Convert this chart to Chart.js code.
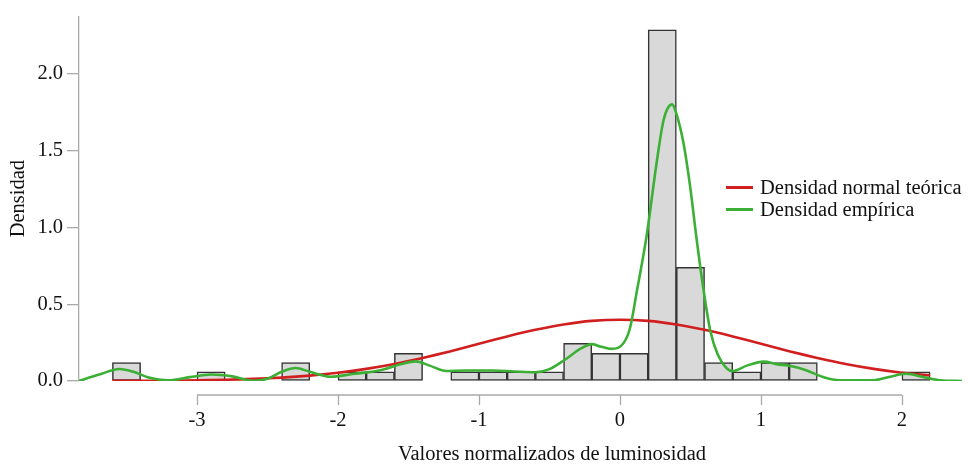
<!DOCTYPE html>
<html>
<head>
<meta charset="utf-8">
<script src="https://cdn.jsdelivr.net/npm/chart.js@4.4.1/dist/chart.umd.min.js"></script>
<style>
  html, body { margin: 0; padding: 0; background: #fff; }
  #wrap { position: relative; width: 968px; height: 464px; }
  #legend, #xtitle {
    position: absolute;
    font-family: "Liberation Serif", serif; font-size: 20.5px; color: #111; line-height: 22px;
  }
  #legend { left: 726px; top: 176px; }
  #xtitle { left: 552px; top: 442px; transform: translateX(-50%); white-space: nowrap; }
  #legend div { display: flex; align-items: center; white-space: nowrap; }
  #legend span.sw { display: inline-block; width: 27px; height: 3px; margin-right: 7px; }
</style>
</head>
<body>
<div id="wrap">
  <canvas id="chart"></canvas>
  <div id="legend">
    <div><span class="sw" style="background:#d11f1f"></span>Densidad normal teórica</div>
    <div><span class="sw" style="background:#3bb035"></span>Densidad empírica</div>
  </div>
  <div id="xtitle">Valores normalizados de luminosidad</div>
</div>
<script>
// Histograma: centros de clase (ancho 0.2) y densidades
const binCenters = [-3.5, -3.3, -3.1, -2.9, -2.7, -2.5, -2.3, -2.1, -1.9, -1.7, -1.5, -1.3, -1.1, -0.9,
  -0.7, -0.5, -0.3, -0.1, 0.1, 0.3, 0.5, 0.7, 0.9, 1.1, 1.3, 1.5, 1.7, 1.9, 2.1];
const binDensity = [0.12, 0, 0, 0.06, 0, 0, 0.12, 0, 0.06, 0.06, 0.18, 0, 0.06, 0.06,
  0.06, 0.06, 0.245, 0.18, 0.18, 2.285, 0.74, 0.12, 0.06, 0.12, 0.12, 0, 0, 0, 0.06];

// Densidad normal teórica
const normalX = [-3.6, -3.4, -3.2, -3.0, -2.8, -2.6, -2.4, -2.2, -2.0, -1.8, -1.6, -1.4, -1.2, -1.0,
  -0.8, -0.6, -0.4, -0.2, 0.0, 0.2, 0.4, 0.6, 0.8, 1.0, 1.2, 1.4, 1.6, 1.8, 2.0, 2.2];
const normalY = [0.001, 0.001, 0.002, 0.005, 0.008, 0.014, 0.022, 0.035, 0.054, 0.079, 0.111, 0.150, 0.194, 0.242,
  0.290, 0.333, 0.368, 0.391, 0.399, 0.391, 0.368, 0.333, 0.290, 0.242, 0.194, 0.150, 0.111, 0.079, 0.054, 0.037];

// Densidad empírica (kernel)
const kdeX = [-3.84, -3.7, -3.55, -3.45, -3.35, -3.2, -3.05, -2.9, -2.75, -2.6, -2.5, -2.4, -2.3, -2.2,
  -2.05, -1.9, -1.7, -1.55, -1.45, -1.35, -1.23, -1.1, -0.9, -0.75, -0.6, -0.5, -0.38, -0.28, -0.2,
  -0.14, -0.06, 0.01, 0.07, 0.12, 0.19, 0.26, 0.31, 0.37, 0.40, 0.45, 0.50, 0.54, 0.59, 0.64, 0.69,
  0.76, 0.80, 0.90, 1.02, 1.11, 1.21, 1.32, 1.44, 1.56, 1.80, 1.91, 2.03, 2.15, 2.27, 2.43];
const kdeY = [0.0, 0.04, 0.078, 0.06, 0.025, 0.005, 0.025, 0.042, 0.03, 0.002, 0.015, 0.06, 0.085, 0.06,
  0.028, 0.045, 0.07, 0.11, 0.128, 0.1, 0.065, 0.068, 0.068, 0.062, 0.057, 0.077, 0.145, 0.21, 0.24,
  0.225, 0.209, 0.23, 0.34, 0.585, 0.95, 1.42, 1.70, 1.80, 1.74, 1.55, 1.25, 0.95, 0.61, 0.33, 0.18,
  0.08, 0.065, 0.10, 0.126, 0.11, 0.097, 0.07, 0.026, 0.005, 0.005, 0.026, 0.047, 0.026, 0.005, 0.0];

const xTicks = [-3, -2, -1, 0, 1, 2];
const yTicks = [0, 0.5, 1.0, 1.5, 2.0];

const FONT = '"Liberation Serif", serif';
const FSIZE = 20.5;
const pts = (xs, ys) => xs.map((x, i) => ({ x: x, y: ys[i] }));

// Eje x al estilo R: separado del área y solo entre los ticks extremos
const rAxisPlugin = {
    id: 'rAxis',
    afterDraw(chart) {
        const ctx = chart.ctx;
        const sx = chart.scales.x;
        const y0 = chart.chartArea.bottom + 14;
        ctx.save();
        ctx.strokeStyle = '#aaaaaa';
        ctx.lineWidth = 1.3;
        ctx.beginPath();
        ctx.moveTo(sx.getPixelForValue(xTicks[0]), y0);
        ctx.lineTo(sx.getPixelForValue(xTicks[xTicks.length - 1]), y0);
        xTicks.forEach(t => {
            const px = Math.round(sx.getPixelForValue(t)) + 0.5;
            ctx.moveTo(px, y0);
            ctx.lineTo(px, y0 + 10);
        });
        ctx.stroke();
        ctx.restore();
    }
};

new Chart(document.getElementById('chart').getContext('2d'), {
    type: 'bar',
    data: {
        datasets: [
            {
                type: 'line',
                label: 'Densidad normal teórica',
                data: pts(normalX, normalY),
                borderColor: '#d11f1f',
                borderWidth: 2.6,
                pointRadius: 0,
                tension: 0.2,
                order: 1
            },
            {
                type: 'line',
                label: 'Densidad empírica',
                data: pts(kdeX, kdeY),
                borderColor: '#3bb035',
                borderWidth: 2.6,
                pointRadius: 0,
                cubicInterpolationMode: 'monotone',
                order: 0
            },
            {
                type: 'bar',
                label: 'Histograma',
                data: pts(binCenters, binDensity),
                backgroundColor: '#d9d9d9',
                borderColor: '#333333',
                borderWidth: 1.5,
                borderSkipped: false,
                barPercentage: 1,
                categoryPercentage: 1,
                grouped: false,
                order: 2
            }
        ]
    },
    options: {
        responsive: true,
        maintainAspectRatio: false,
        animation: false,
        layout: { padding: { top: 12, right: 6, left: 0, bottom: 0 } },
        plugins: {
            legend: { display: false },
            tooltip: { enabled: false }
        },
        scales: {
            x: {
                type: 'linear',
                offset: false,
                min: -3.837,
                max: 2.426,
                afterFit: s => { s.height = 83; },
                afterBuildTicks: s => { s.ticks = xTicks.map(v => ({ value: v })); },
                grid: { display: false, drawTicks: false },
                border: { display: false },
                ticks: {
                    font: { family: FONT, size: FSIZE },
                    color: '#111',
                    padding: 27,
                    maxRotation: 0,
                    callback: v => String(v)
                },
                title: { display: false }
            },
            y: {
                min: 0,
                max: 2.373,
                afterFit: s => { s.width = 79; },
                afterBuildTicks: s => { s.ticks = yTicks.map(v => ({ value: v })); },
                grid: { display: true, drawOnChartArea: false, drawTicks: true, tickLength: 12, color: '#aaaaaa', lineWidth: 1.3 },
                border: { display: true, color: '#aaaaaa', width: 1.3 },
                ticks: {
                    font: { family: FONT, size: FSIZE },
                    color: '#111',
                    padding: 4,
                    callback: v => v.toFixed(1)
                },
                title: {
                    display: true,
                    text: 'Densidad',
                    font: { family: FONT, size: FSIZE },
                    color: '#111',
                    padding: { top: 6, bottom: 0 }
                }
            }
        }
    },
    plugins: [rAxisPlugin]
});
</script>
</body>
</html>
